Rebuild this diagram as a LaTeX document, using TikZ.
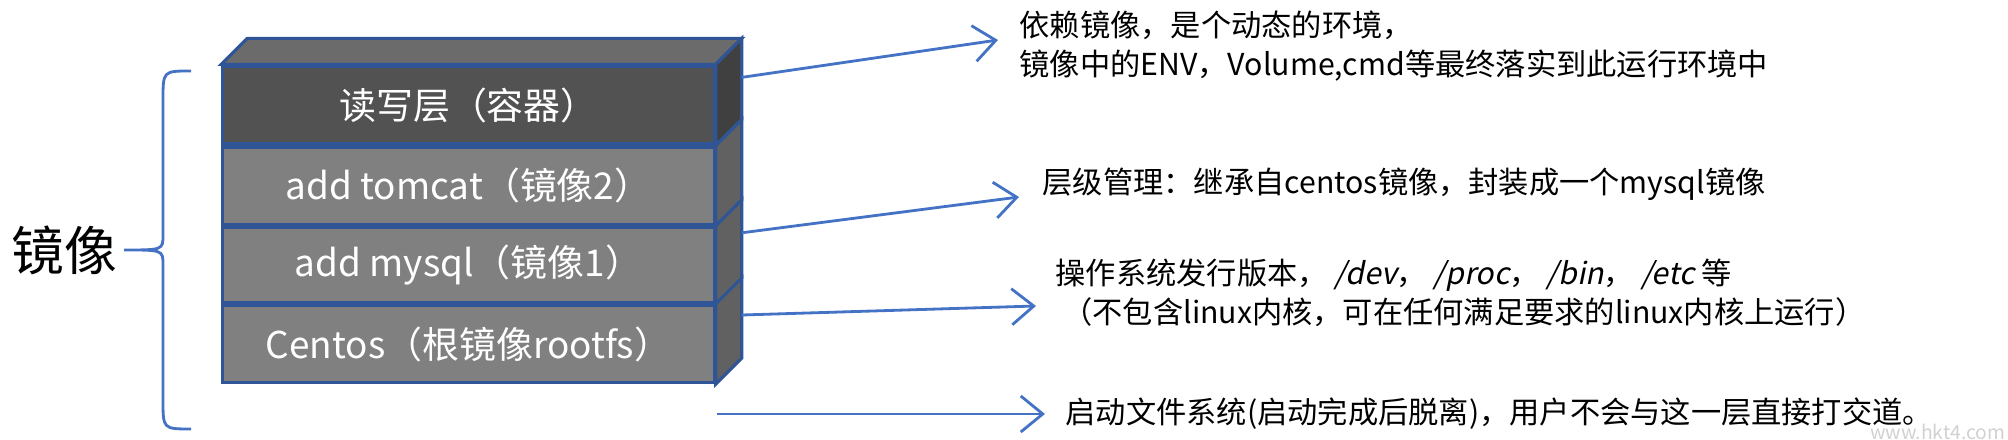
\documentclass[tikz,border=0pt]{standalone}
\usepackage{fontspec}
\setmainfont{Noto Sans CJK SC}
\newfontfamily\cjkslant[FakeSlant=0.2]{Noto Sans CJK SC}
\usetikzlibrary{positioning,arrows.meta,calc}
\definecolor{edgeblue}{HTML}{2F5597}
\definecolor{arrowblue}{HTML}{4472C4}
\begin{document}
\begin{tikzpicture}[x=0.01cm, y=0.01cm, >={Straight Barb[length=2.2mm,width=3.6mm]},
        layer/.style = {draw=edgeblue, line width=0.9pt, fill=gray!100!white, minimum width=4.91cm,
                inner sep=0pt, text=white, font=\fontsize{10.5}{13}\selectfont},
        side/.style = {draw=edgeblue, line width=0.9pt, fill=black!65},
        note/.style = {anchor=west, inner sep=0pt, align=left, font=\fontsize{8.6}{11}\selectfont},
        link/.style = {->, draw=arrowblue, line width=0.8pt},
    ]
    \useasboundingbox (0,0) rectangle (2008,440);
    % layers, top to bottom
    \node[layer, fill=black!68, minimum height=0.78cm] (rw) at (468.5,335) {读写层（容器）};
    \node[layer, fill=black!50, minimum height=0.77cm, below=0pt of rw] (tomcat) {add tomcat（镜像2）};
    \node[layer, fill=black!50, minimum height=0.75cm, below=0pt of tomcat] (mysql) {add mysql（镜像1）};
    \node[layer, fill=black!50, minimum height=0.77cm, below=0pt of mysql] (centos) {Centos（根镜像rootfs）};
    % top face and side faces
    \filldraw[side, fill=black!58] (rw.north west) -- ++(26,26) -- ($(rw.north east)+(26,26)$) -- (rw.north east) -- cycle;
    \foreach \l/\c in {rw/75, tomcat/62, mysql/62, centos/62}
        \filldraw[side, fill=black!\c] (\l.north east) -- ++(26,26) -- ($(\l.south east)+(26,26)$) -- (\l.south east) -- cycle;
    % brace
    \draw[arrowblue, line width=0.8pt] (191,369) .. controls (163,369) .. (163,340) -- (163,205)
        .. controls (163,190) .. (124,190) .. controls (163,190) .. (163,175) -- (163,40)
        .. controls (163,11) .. (191,11);
    \node[anchor=east, inner sep=0pt, font=\fontsize{15}{15}\selectfont] (img) at (118,190) {镜像};
    % notes
    \node[note] (n1) at (1019,394) {依赖镜像，是个动态的环境，\\镜像中的ENV，Volume,cmd等最终落实到此运行环境中};
    \node[note] (n2) at (1042,256) {层级管理：继承自centos镜像，封装成一个mysql镜像};
    \node[note] (n3) at (1055,147) {操作系统发行版本，\ {\cjkslant /dev}，\ {\cjkslant /proc}，\ {\cjkslant /bin}，\ {\cjkslant /etc} 等\\\ （不包含linux内核，可在任何满足要求的linux内核上运行）};
    \node[note] (n4) at (1065,26) {启动文件系统(启动完成后脱离)，用户不会与这一层直接打交道。};
    \node[anchor=south east, inner sep=0pt, text=black!18, font=\fontsize{5.5}{6}\selectfont] (wm) at (2006,0) {www.hkt4.com};
    % connectors
    \coordinate (boot) at (717,26);
    \draw[link] ($(rw.north east)+(26,-13)$) -- (998,400);
    \draw[link] ($(mysql.north east)+(26,-7)$) -- (1019,243);
    \draw[link] ($(centos.north east)+(26,-11)$) -- (1036,134);
    \draw[link] (boot) -- (1045,26);
\end{tikzpicture}
\end{document}
